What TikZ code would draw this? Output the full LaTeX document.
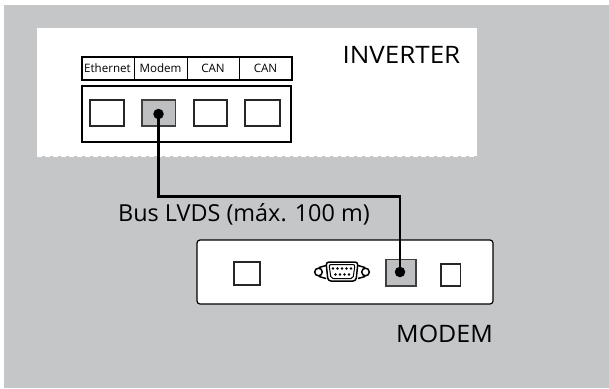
\documentclass[tikz,border=0pt]{standalone}
\usepackage{fontspec}
\setmainfont{Open Sans}
\definecolor{bgg}{RGB}{197,198,200}
\definecolor{portg}{RGB}{190,191,193}
\tikzset{
 panel/.style={draw=black,fill=white,line width=1.5pt},
 port/.style={draw=black!85,fill=white,line width=1.3pt},
 portact/.style={draw=black!75,fill=portg,line width=1.2pt},
 cable/.style={draw=black,line width=2.2pt},
 dot/.style={circle,fill=black,inner sep=0pt,minimum size=10.5pt},
 lab/.style={inner sep=0pt,anchor=base,font=\fontsize{11.6}{12}\selectfont},
 big/.style={inner sep=0pt,anchor=base east,font=\fontsize{24}{26}\selectfont},
 conn/.style={draw=black,line width=1.5pt,fill=white}
}
\begin{document}
\begin{tikzpicture}[x=1pt,y=-1pt]
\useasboundingbox (0,0) rectangle (609,388);
\fill[white] (0,0) rectangle (609,388);
\fill[bgg] (4,5) rectangle (609,388);
\fill[white] (37,28) rectangle (477,156);
\draw[white,line width=0.8pt,dash pattern=on 5pt off 3pt] (37,156.5) -- (477,156.5);
\draw[panel,line width=1.3pt] (82,57) rectangle (292,80);
\draw[black,line width=1pt] (134,57) -- (134,80) (187,57) -- (187,80) (239,57) -- (239,80);
\node[lab] (le) at (107.5,72) {Ethernet};
\node[lab] (lm) at (160.5,72) {Modem};
\node[lab] (lc1) at (213,72) {CAN};
\node[lab] (lc2) at (265.5,72) {CAN};
\node[big,xscale=1.083] (inv) at (460.5,63) {INVERTER};
\draw[panel] (82,86) rectangle (291,142);
\draw[port] (90,100) rectangle (124,126);
\draw[portact] (142,100) rectangle (175.5,126);
\draw[port] (194,100) rectangle (227,126);
\draw[port] (245,100) rectangle (280,126);
\draw[draw=black,fill=white,line width=1.2pt,rounded corners=3pt] (197,240) rectangle (493,304);
\draw[port,line width=1.1pt] (234,262) rectangle (260,285);
\draw[portact] (386,259.5) rectangle (416,286);
\draw[port,line width=1.1pt] (441,264) rectangle (460.5,286);
% D-sub connector
\draw[conn] (318.5,272) circle (3.8pt);
\draw[conn] (365.5,272) circle (3.8pt);
\draw[black,line width=1.5pt] (319,267.5) -- (326,265.5) (319,276.5) -- (326,278.5) (365,267.5) -- (358,265.5) (365,276.5) -- (358,278.5);
\draw[conn,rounded corners=3pt] (326,262) -- (358,262) -- (356,281) -- (328,281) -- cycle;
\draw[black,line width=1pt,rounded corners=2pt] (329,264.5) -- (355,264.5) -- (353,278.5) -- (331,278.5) -- cycle;
\foreach \x in {333,337.5,342,346.5,351} \fill (\x,268.5) circle (1.4pt);
\foreach \x in {335.5,340,344.5,349} \fill (\x,274.5) circle (1.4pt);
\node[dot] (da) at (158.5,114) {};
\node[dot] (db) at (400,272) {};
\coordinate (c1) at (158.5,196.5);
\coordinate (c2) at (400,196.5);
\draw[cable] (da.center) -- (c1) -- (c2) -- (db.center);
\node[big,anchor=base west,font=\fontsize{23.4}{26}\selectfont] (bus) at (118,221) {Bus LVDS (máx. 100 m)};
\node[big,xscale=1.04] (mod) at (493,342) {MODEM};
\end{tikzpicture}
\end{document}
